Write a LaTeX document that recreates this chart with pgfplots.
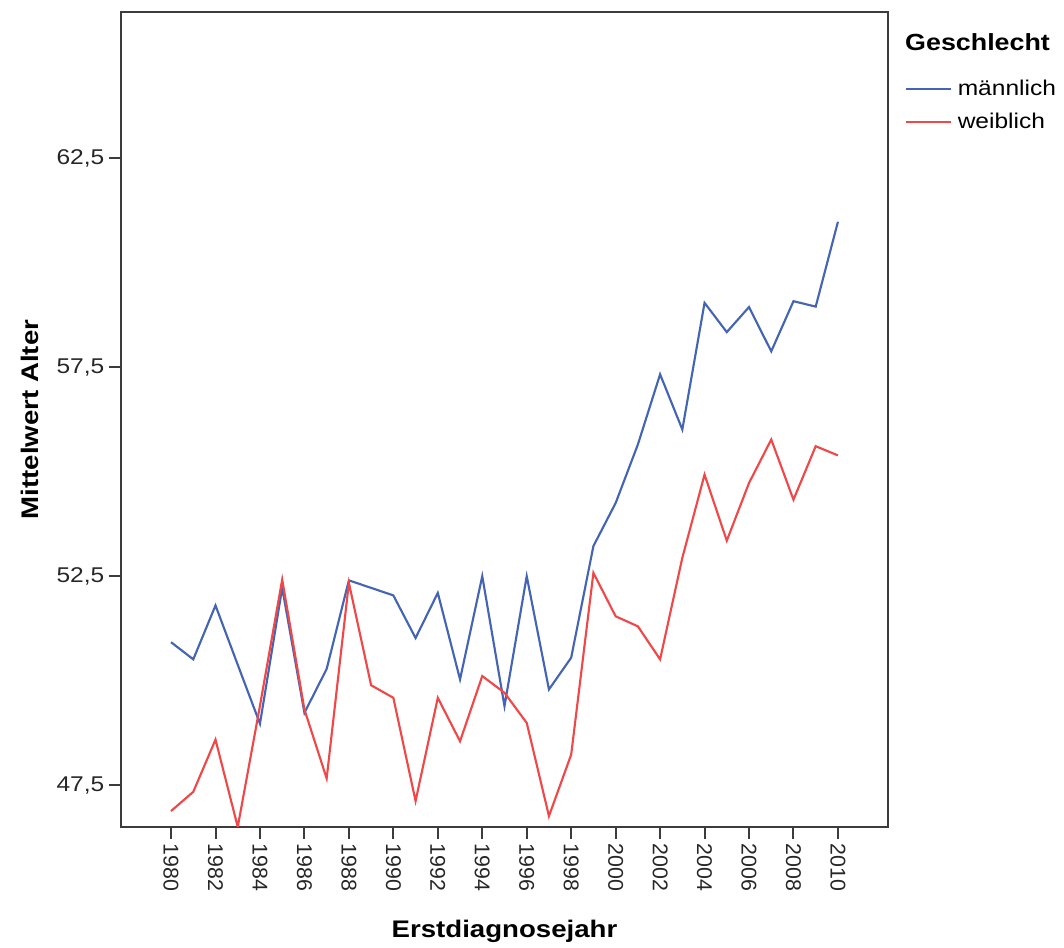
\documentclass[border=0pt]{standalone}
\usepackage{pgfplots}
\pgfplotsset{compat=1.18}
\usepackage{fontspec}
\setmainfont[FakeStretch=1.15]{Liberation Sans}
\newfontfamily\tickfont{Liberation Sans}
\definecolor{mblue}{RGB}{68,100,180}
\definecolor{wred}{RGB}{240,72,72}
\definecolor{axgray}{RGB}{60,60,60}

\pgfplotstableread{
year m w
1980 50.92 46.88
1981 50.51 47.34
1982 51.80 48.59
1983 50.38 46.50
1984 48.97 49.40
1985 52.22 52.42
1986 49.23 49.31
1987 50.28 47.66
1988 52.40 52.34
1989 52.22 49.89
1990 52.04 49.59
1991 51.02 47.12
1992 52.10 49.59
1993 50.03 48.55
1994 52.50 50.11
1995 49.39 49.71
1996 52.50 48.99
1997 49.79 46.76
1998 50.55 48.23
1999 53.22 52.58
2000 54.25 51.54
2001 55.65 51.30
2002 57.33 50.51
2003 56.01 52.94
2004 59.04 54.93
2005 58.34 53.35
2006 58.94 54.73
2007 57.88 55.77
2008 59.08 54.33
2009 58.95 55.61
2010 60.98 55.39
}\datatable

\begin{document}
\begin{tikzpicture}
\begin{axis}[
  scale only axis, width=575pt, height=611pt,
  xmin=1977.75, xmax=2012.25, ymin=46.5, ymax=66,
  xtick={1980,1982,...,2010},
  xticklabels={1980,1982,1984,1986,1988,1990,1992,1994,1996,1998,2000,2002,2004,2006,2008,2010},
  ytick={47.5,52.5,57.5,62.5},
  yticklabels={{47,5},{52,5},{57,5},{62,5}},
  x tick label style={rotate=-90, anchor=west, font=\tickfont\fontsize{16}{16}\selectfont, text=black!85},
  y tick label style={font=\fontsize{16}{16}\selectfont, text=black!85},
  xlabel={Erstdiagnosejahr}, ylabel={Mittelwert Alter},
  label style={font=\fontsize{18}{20}\selectfont\bfseries},
  xlabel style={at={(axis description cs:0.5,-0.1362)}, anchor=base},
  ylabel style={at={(axis description cs:-0.1183,0.5)}, anchor=center},
  axis line style={axgray, line width=1.2pt},
  tick style={axgray, line width=1.5pt},
  tick align=outside, xtick pos=lower, ytick pos=left,
  major tick length=9pt,
  clip=true,
  legend style={draw=none, fill=none, inner sep=0pt, outer sep=0pt,
    at={(1,1)}, anchor=north west, xshift=12.75pt, yshift=-50.25pt,
    font=\fontsize{16}{16}\selectfont, row sep=9.75pt,
    nodes={inner sep=1pt}},
  legend cell align=left,
  legend image code/.code={\draw[#1] (0pt,0pt) -- (34pt,0pt); \path (37pt,0pt);},
]
\addplot[mblue, line width=1.6pt] table[x=year, y=m] {\datatable};
\addlegendentry{männlich}
\addplot[wred, line width=1.6pt] table[x=year, y=w] {\datatable};
\addlegendentry{weiblich}
\end{axis}
\node[anchor=west, inner sep=0pt, font=\fontsize{17.5}{18}\selectfont\bfseries] at ([xshift=12.75pt,yshift=-22.5pt]current axis.north east) {Geschlecht};
\path[use as bounding box] ([xshift=-90.75pt,yshift=-88.5pt]current axis.south west) rectangle ([xshift=132pt,yshift=9pt]current axis.north east);
\end{tikzpicture}
\end{document}
